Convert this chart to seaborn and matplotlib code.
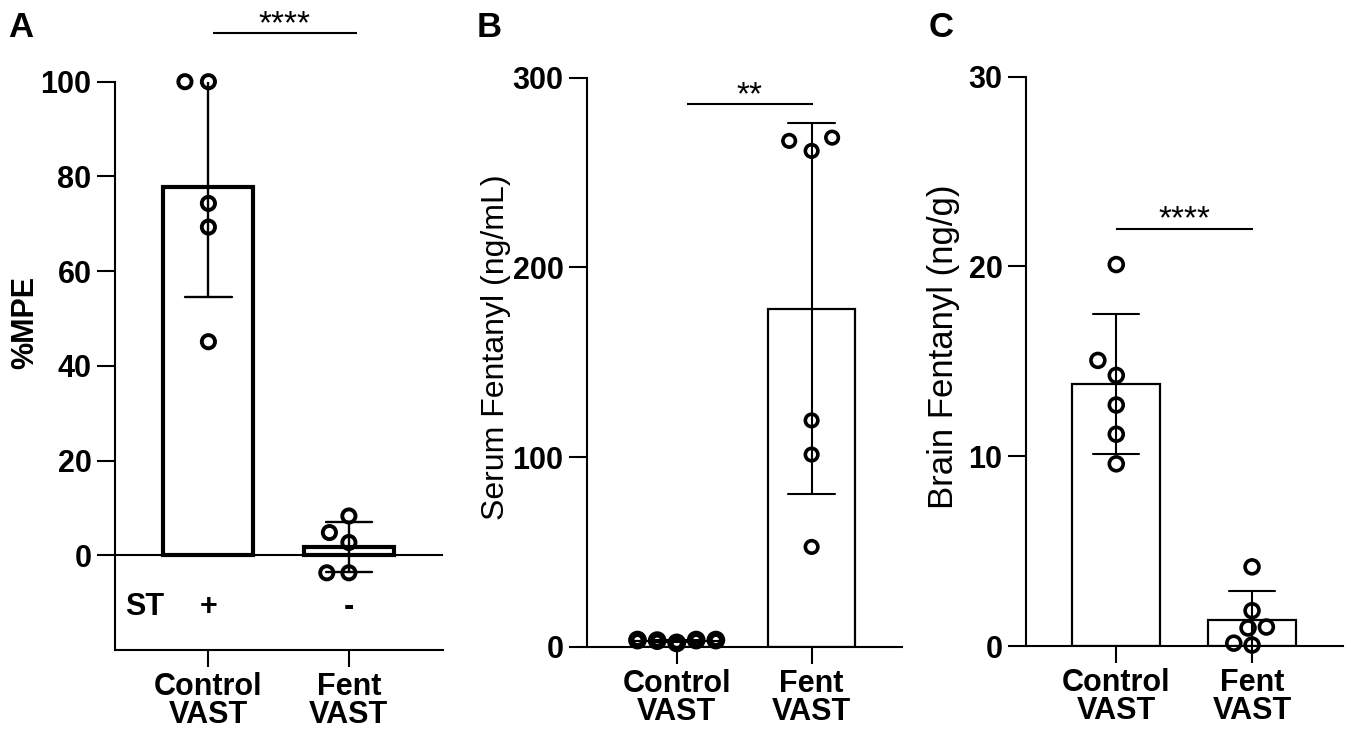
import matplotlib.pyplot as plt
import matplotlib.transforms as mtransforms
import seaborn as sns
import numpy as np
import pandas as pd

groups = ['Control\nVAST', 'Fent\nVAST']

# Panel A: %MPE
mpe_control = [100, 100, 74.3, 69.3, 45.1]
mpe_fent = [8.3, 4.8, 2.7, -3.7, -3.7]

# Panel B: serum fentanyl (ng/mL)
serum_control = [3.2, 3.5, 3.5, 3.5, 2.0]
serum_fent = [268.4, 261.4, 266.7, 119.3, 101.3, 52.6]

# Panel C: brain fentanyl (ng/g)
brain_control = [20.1, 15.05, 14.26, 12.7, 11.16, 9.6]
brain_fent = [4.17, 1.86, 0.95, 1.0, 0.05, 0.15]

st_row = ['+', '-']
sig_labels = ['****', '**', '****']


def long_df(ctrl, fent):
    return pd.DataFrame({
        'group': [groups[0]] * len(ctrl) + [groups[1]] * len(fent),
        'value': list(ctrl) + list(fent),
    })


sns.set_theme(style="ticks")
plt.rcParams['font.family'] = ['Liberation Sans', 'DejaVu Sans']
plt.rcParams.update({
    'axes.linewidth': 1.5,
    'axes.edgecolor': 'black',
    'text.color': 'black',
    'axes.labelcolor': 'black',
    'xtick.color': 'black',
    'ytick.color': 'black',
})

W, H = 1351, 731
fig = plt.figure(figsize=(W / 100, H / 100), dpi=100)

swarms = []  # (collection, marker size) to shrink after the swarm layout is done


def px_axes(left, right, top, bottom):
    return fig.add_axes([left / W, 1 - bottom / H, (right - left) / W, (bottom - top) / H])


def draw_panel(ax, df, bar_lw, err_lw, width, capsize, msize, medges, spread):
    sns.barplot(data=df, x='group', y='value', order=groups, errorbar='sd',
                capsize=capsize, width=width, color='white', edgecolor='black',
                linewidth=bar_lw, err_kws={'color': 'black', 'linewidth': err_lw},
                ax=ax)
    n_before = len(ax.collections)
    sns.swarmplot(data=df, x='group', y='value', order=groups, size=msize,
                  color='black', ax=ax)
    for coll, lw, sp in zip(ax.collections[n_before:], medges, spread):
        coll.set_facecolor('none')
        coll.set_edgecolor('black')
        coll.set_linewidth(lw)
        coll.set_clip_on(False)
        # lay the swarm out with a bigger footprint (looser, GraphPad-like spacing)
        coll.set_sizes([(msize * sp) ** 2])
        swarms.append((coll, msize))
    ax.set_xlim(-0.665, 1.67)
    ax.set_xlabel('')
    ax.set_ylabel('')
    sns.despine(ax=ax)
    ax.tick_params(axis='both', width=1.5, labelsize=22, pad=4, color='black')
    ax.tick_params(axis='y', length=13)
    ax.tick_params(axis='x', length=12)
    for lbl in ax.get_xticklabels() + ax.get_yticklabels():
        lbl.set_fontweight('bold')
    for lbl in ax.get_xticklabels():
        lbl.set_linespacing(0.9)


def sig_bar(ax, x0, x1, h, label):
    ax.plot([x0, x1], [h, h], color='black', lw=1.5, clip_on=False,
            solid_capstyle='butt')
    ax.annotate(label, xy=((x0 + x1) / 2, h), xytext=(0, 0),
                textcoords='offset points', ha='center', va='baseline',
                fontsize=24, annotation_clip=False)


# ---- Panel A ----
axA = px_axes(115, 443, 81.7, 650)
draw_panel(axA, long_df(mpe_control, mpe_fent), bar_lw=3.0, err_lw=1.7,
           width=0.64, capsize=0.33, msize=9.5, medges=[2.8, 2.8],
           spread=[1.4, 1.3])
axA.axhline(0, color='black', lw=1.5, zorder=0.5)
axA.set_ylim(-20, 100)
axA.set_yticks([0, 20, 40, 60, 80, 100])
for lbl in axA.get_yticklabels():
    lbl.set_fontweight('bold')
blend = mtransforms.blended_transform_factory(axA.transAxes, axA.transData)
axA.text(0.03, -12.6, 'ST', transform=blend, ha='left', va='baseline',
         fontsize=22, fontweight='bold')
for i, s in enumerate(st_row):
    axA.text(i, -12.6, s, ha='center', va='baseline', fontsize=22, fontweight='bold')
sig_bar(axA, 0.03, 1.06, 110.3, sig_labels[0])

# ---- Panel B ----
axB = px_axes(587, 902, 77.7, 646.7)
draw_panel(axB, long_df(serum_control, serum_fent), bar_lw=1.6, err_lw=1.5,
           width=0.65, capsize=0.35, msize=9.0, medges=[4.5, 2.6],
           spread=[1.0, 1.6])
axB.set_ylim(0, 300)
axB.set_yticks([0, 100, 200, 300])
for lbl in axB.get_yticklabels():
    lbl.set_fontweight('bold')
sig_bar(axB, 0.074, 1.01, 286, sig_labels[1])

# ---- Panel C ----
axC = px_axes(1026, 1343, 76.7, 646)
draw_panel(axC, long_df(brain_control, brain_fent), bar_lw=1.6, err_lw=1.5,
           width=0.65, capsize=0.34, msize=10.0, medges=[2.6, 2.6],
           spread=[1.4, 1.0])
axC.set_ylim(0, 30)
axC.set_yticks([0, 10, 20, 30])
for lbl in axC.get_yticklabels():
    lbl.set_fontweight('bold')
sig_bar(axC, 0.0, 1.007, 22.0, sig_labels[2])

# y labels and panel letters
fig.text(25 / W, 1 - 322 / H, '%MPE', rotation=90, ha='center', va='center',
         fontsize=22, fontweight='bold')
fig.text(496 / W, 1 - 347 / H, 'Serum Fentanyl (ng/mL)', rotation=90,
         ha='center', va='center', fontsize=23)
fig.text(944 / W, 1 - 347 / H, 'Brain Fentanyl (ng/g)', rotation=90,
         ha='center', va='center', fontsize=25)

for x, letter in [(8, 'A'), (477, 'B'), (929, 'C')]:
    fig.text(x / W, 1 - 37 / H, letter, ha='left', va='baseline',
             fontsize=25, fontweight='bold')

# first draw runs seaborn's beeswarm layout; then freeze it and shrink the markers
fig.canvas.draw()
for coll, msize in swarms:
    coll.__dict__.pop('draw', None)
    coll.set_sizes([msize ** 2])

fig.savefig('out.png', dpi=100)
